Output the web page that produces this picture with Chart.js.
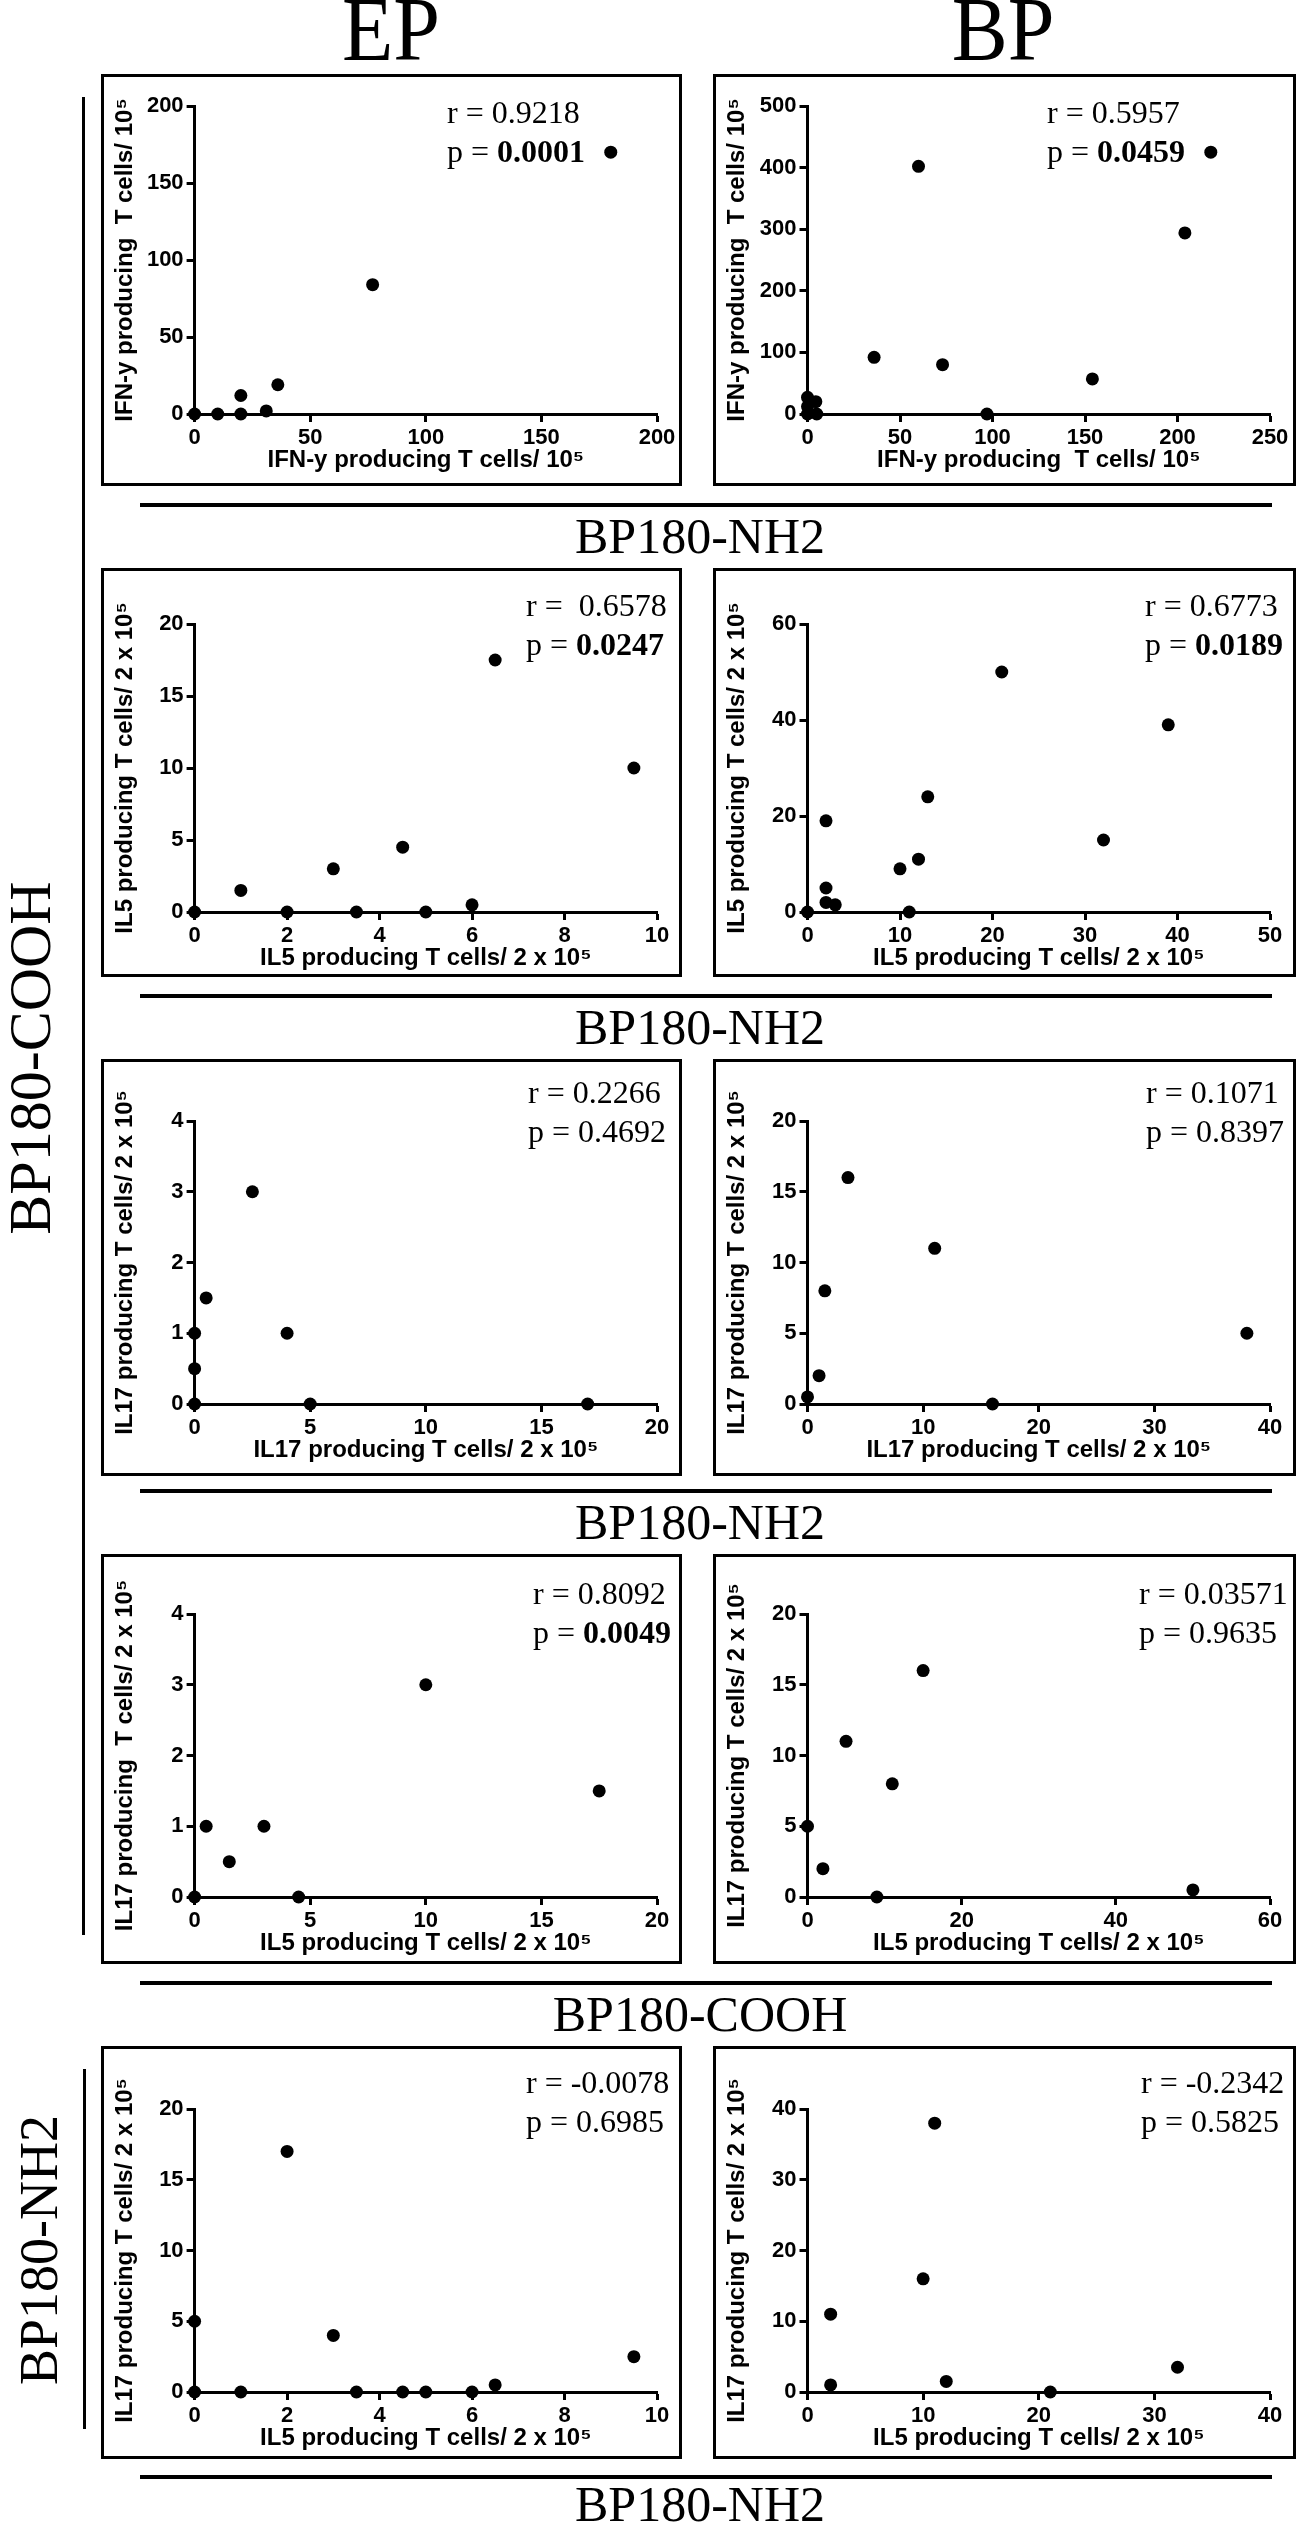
<!DOCTYPE html>
<html>
<head>
<meta charset="utf-8">
<script src="https://cdn.jsdelivr.net/npm/chart.js@4.4.0/dist/chart.umd.min.js"></script>
<style>
  body { margin:0; background:#fff; width:1299px; height:2524px; position:relative; overflow:hidden; }
  .box { position:absolute; border:3px solid #000; box-sizing:border-box; background:#fff; }
  .box canvas { display:block; }
  .serif { position:absolute; font-family:"Liberation Serif", "Times New Roman", serif; color:#000; white-space:pre; }
  .rule { position:absolute; background:#000; }
  .rot { position:absolute; transform:translate(-50%,-50%) rotate(-90deg); font-family:"Liberation Serif", serif; color:#000; white-space:nowrap; line-height:1; }
</style>
</head>
<body>
<div id="page"></div>
<script>
// values, one pair of arrays per panel
const ifnEpX = [0, 10, 20, 20, 31, 36, 77, 180];
const ifnEpY = [0, 0, 0, 12, 2, 19, 84, 170];
const ifnBpX = [0, 0, 0, 4.5, 5, 36, 60, 73, 97, 154, 204, 218];
const ifnBpY = [0, 12, 27, 20, 0, 92, 402, 80, 0, 57, 294, 425];

const il5EpX = [0, 1, 2, 3, 3.5, 4.5, 5, 6, 6.5, 9.5];
const il5EpY = [0, 1.5, 0, 3, 0, 4.5, 0, 0.5, 17.5, 10];
const il5BpX = [0, 2, 2, 2, 3, 10, 11, 12, 13, 21, 32, 39];
const il5BpY = [0, 19, 5, 2, 1.5, 9, 0, 11, 24, 50, 15, 39];

const il17EpX = [0, 0, 0, 0.5, 2.5, 4, 5, 17];
const il17EpY = [0, 0.5, 1, 1.5, 3, 1, 0, 0];
const il17BpX = [0, 1, 1.5, 3.5, 11, 16, 38];
const il17BpY = [0.5, 2, 8, 16, 11, 0, 5];

const mixEpX = [0, 0.5, 1.5, 3, 4.5, 10, 17.5];
const mixEpY = [0, 1, 0.5, 1, 0, 3, 1.5];
const mixBpX = [0, 2, 5, 9, 11, 15, 50];
const mixBpY = [5, 2, 11, 0, 8, 16, 0.5];

const nh2EpX = [0, 0, 1, 2, 3, 3.5, 4.5, 5, 6, 6.5, 9.5];
const nh2EpY = [5, 0, 0, 17, 4, 0, 0, 0, 0, 0.5, 2.5];
const nh2BpX = [2, 2, 10, 11, 12, 21, 32];
const nh2BpY = [1, 11, 16, 38, 1.5, 0, 3.5];

// axis ranges [max, step]
const xAxes = [[200, 50], [250, 50], [10, 2], [50, 10], [20, 5], [40, 10], [20, 5], [60, 20], [10, 2], [40, 10]];
const yAxes = [[200, 50], [500, 100], [20, 5], [60, 20], [4, 1], [20, 5], [4, 1], [20, 5], [20, 5], [40, 10]];

const xTitles = ['IFN-y producing T cells/ 10\u2075', 'IFN-y producing  T cells/ 10\u2075',
  'IL5 producing T cells/ 2 x 10\u2075', 'IL5 producing T cells/ 2 x 10\u2075',
  'IL17 producing T cells/ 2 x 10\u2075', 'IL17 producing T cells/ 2 x 10\u2075',
  'IL5 producing T cells/ 2 x 10\u2075', 'IL5 producing T cells/ 2 x 10\u2075',
  'IL5 producing T cells/ 2 x 10\u2075', 'IL5 producing T cells/ 2 x 10\u2075'];
const yTitles = ['IFN-y producing  T cells/ 10\u2075', 'IFN-y producing  T cells/ 10\u2075',
  'IL5 producing T cells/ 2 x 10\u2075', 'IL5 producing T cells/ 2 x 10\u2075',
  'IL17 producing T cells/ 2 x 10\u2075', 'IL17 producing T cells/ 2 x 10\u2075',
  'IL17 producing  T cells/ 2 x 10\u2075', 'IL17 producing T cells/ 2 x 10\u2075',
  'IL17 producing T cells/ 2 x 10\u2075', 'IL17 producing T cells/ 2 x 10\u2075'];

const rValues = ['0.9218', '0.5957', ' 0.6578', '0.6773', '0.2266', '0.1071', '0.8092', '0.03571', '-0.0078', '-0.2342'];
const pValues = ['0.0001', '0.0459', '0.0247', '0.0189', '0.4692', '0.8397', '0.0049', '0.9635', '0.6985', '0.5825'];
const pBold = [true, true, true, true, false, false, true, false, false, false];

const sectionLabels = ['BP180-NH2', 'BP180-NH2', 'BP180-NH2', 'BP180-COOH', 'BP180-NH2'];

const panels = [
  [ifnEpX, ifnEpY], [ifnBpX, ifnBpY],
  [il5EpX, il5EpY], [il5BpX, il5BpY],
  [il17EpX, il17EpY], [il17BpX, il17BpY],
  [mixEpX, mixEpY], [mixBpX, mixBpY],
  [nh2EpX, nh2EpY], [nh2BpX, nh2BpY]
];

// layout (page pixels)
const cols = [{ l: 101, r: 682, x0: 194.6, x1: 657 }, { l: 713, r: 1296, x0: 807.5, x1: 1270 }];
const rows = [
  { t: 74, b: 486, yTop: 106, y0: 414 },
  { t: 568, b: 977, yTop: 624, y0: 912 },
  { t: 1059, b: 1476, yTop: 1121, y0: 1404 },
  { t: 1554, b: 1964, yTop: 1614, y0: 1897 },
  { t: 2046, b: 2459, yTop: 2109, y0: 2392 }
];
const statLeft = [346, 334, 425, 432, 427, 433, 432, 426, 425, 428];
const statBase = [49, 48, 44, 50, 47];

const page = document.getElementById('page');
function addText(cls, html, css) {
  const d = document.createElement('div');
  d.className = cls;
  d.innerHTML = html;
  Object.assign(d.style, css);
  page.appendChild(d);
  return d;
}

// column headers
addText('serif', 'EP', { left: '391px', top: (58 - 0.8375 * 84) + 'px', fontSize: '84px', lineHeight: '84px', transform: 'translateX(-50%) scaleY(1.08)' });
addText('serif', 'BP', { left: '1003px', top: (58 - 0.8375 * 84) + 'px', fontSize: '84px', lineHeight: '84px', transform: 'translateX(-50%) scaleY(1.08)' });

// separators under each row
const nextTops = [568, 1059, 1554, 2046, 2540];
sectionLabels.forEach((lab, i) => {
  const lineY = i < 4 ? nextTops[i] - 63 : 2477;
  const base = i < 4 ? nextTops[i] - 15 : 2521;
  addText('rule', '', { left: '140px', top: (lineY - 2) + 'px', width: '1132px', height: '4px' });
  addText('serif', lab, { left: '700px', top: (base - 0.8375 * 50) + 'px', fontSize: '50px', lineHeight: '50px', transform: 'translateX(-50%)' });
});

// left group labels
addText('rule', '', { left: '82px', top: '97px', width: '3px', height: '1838px' });
addText('rule', '', { left: '83px', top: '2069px', width: '3px', height: '360px' });
addText('rot', 'BP180-COOH', { left: '30px', top: '1058px', fontSize: '60px' });
addText('rot', 'BP180-NH2', { left: '39px', top: '2250px', fontSize: '54px' });

const tickFont = { family: '"Liberation Sans", Arial, sans-serif', size: 22, weight: 'bold' };
const titleFont = { family: '"Liberation Sans", Arial, sans-serif', size: 24, weight: 'bold' };

panels.forEach((p, i) => {
  const col = cols[i % 2], row = rows[Math.floor(i / 2)];
  const box = document.createElement('div');
  box.className = 'box';
  Object.assign(box.style, { left: col.l + 'px', top: row.t + 'px', width: (col.r - col.l) + 'px', height: (row.b - row.t) + 'px' });
  const cv = document.createElement('canvas');
  const cw = col.r - col.l - 6, ch = row.b - row.t - 6;
  cv.width = cw; cv.height = ch;
  cv.style.width = cw + 'px'; cv.style.height = ch + 'px';
  box.appendChild(cv);
  page.appendChild(box);

  const cl = col.l + 3, cr = col.r - 3, ct = row.t + 3, cb = row.b - 3;
  const leftW = col.x0 - cl, rightPad = cr - col.x1, topPad = row.yTop - ct, bottomH = cb - row.y0;
  const xtPad = Math.max(0, (cb - (row.y0 + 46)) - 14.4);

  new Chart(cv, {
    type: 'scatter',
    data: {
      datasets: [{
        data: p[0].map((x, k) => ({ x: x, y: p[1][k] })),
        backgroundColor: '#000', borderColor: '#000',
        pointRadius: 6.5, pointHoverRadius: 6.5, pointBorderWidth: 0,
        clip: false
      }]
    },
    options: {
      responsive: false, animation: false, devicePixelRatio: 1,
      plugins: { legend: { display: false }, tooltip: { enabled: false } },
      layout: { padding: { top: topPad, right: rightPad, left: 0, bottom: 0 } },
      scales: {
        x: {
          type: 'linear', min: 0, max: xAxes[i][0],
          ticks: { stepSize: xAxes[i][1], color: '#000', font: tickFont, padding: 3, maxRotation: 0, autoSkip: false },
          grid: { drawOnChartArea: false, drawTicks: true, tickLength: 8, tickWidth: 3, tickColor: '#000' },
          border: { display: true, color: '#000', width: 3 },
          title: { display: true, text: xTitles[i], color: '#000', font: titleFont, padding: { top: 0, bottom: xtPad } },
          afterFit: s => { s.height = bottomH; }
        },
        y: {
          type: 'linear', min: 0, max: yAxes[i][0],
          ticks: { stepSize: yAxes[i][1], color: '#000', font: tickFont, padding: 3, autoSkip: false },
          grid: { drawOnChartArea: false, drawTicks: true, tickLength: 8, tickWidth: 3, tickColor: '#000' },
          border: { display: true, color: '#000', width: 3 },
          title: { display: true, text: yTitles[i], color: '#000', font: titleFont, padding: { top: 7, bottom: 0 } },
          afterFit: s => { s.width = leftW; }
        }
      }
    }
  });

  // r / p annotation
  const base = row.t + statBase[Math.floor(i / 2)];
  const left = col.l + statLeft[i];
  addText('serif', 'r = ' + rValues[i], { left: left + 'px', top: (base - 0.8375 * 32) + 'px', fontSize: '32px', lineHeight: '32px' });
  const pv = pBold[i] ? '<b>' + pValues[i] + '</b>' : pValues[i];
  addText('serif', 'p = ' + pv, { left: left + 'px', top: (base + 39 - 0.8375 * 32) + 'px', fontSize: '32px', lineHeight: '32px' });
});
</script>
</body>
</html>
